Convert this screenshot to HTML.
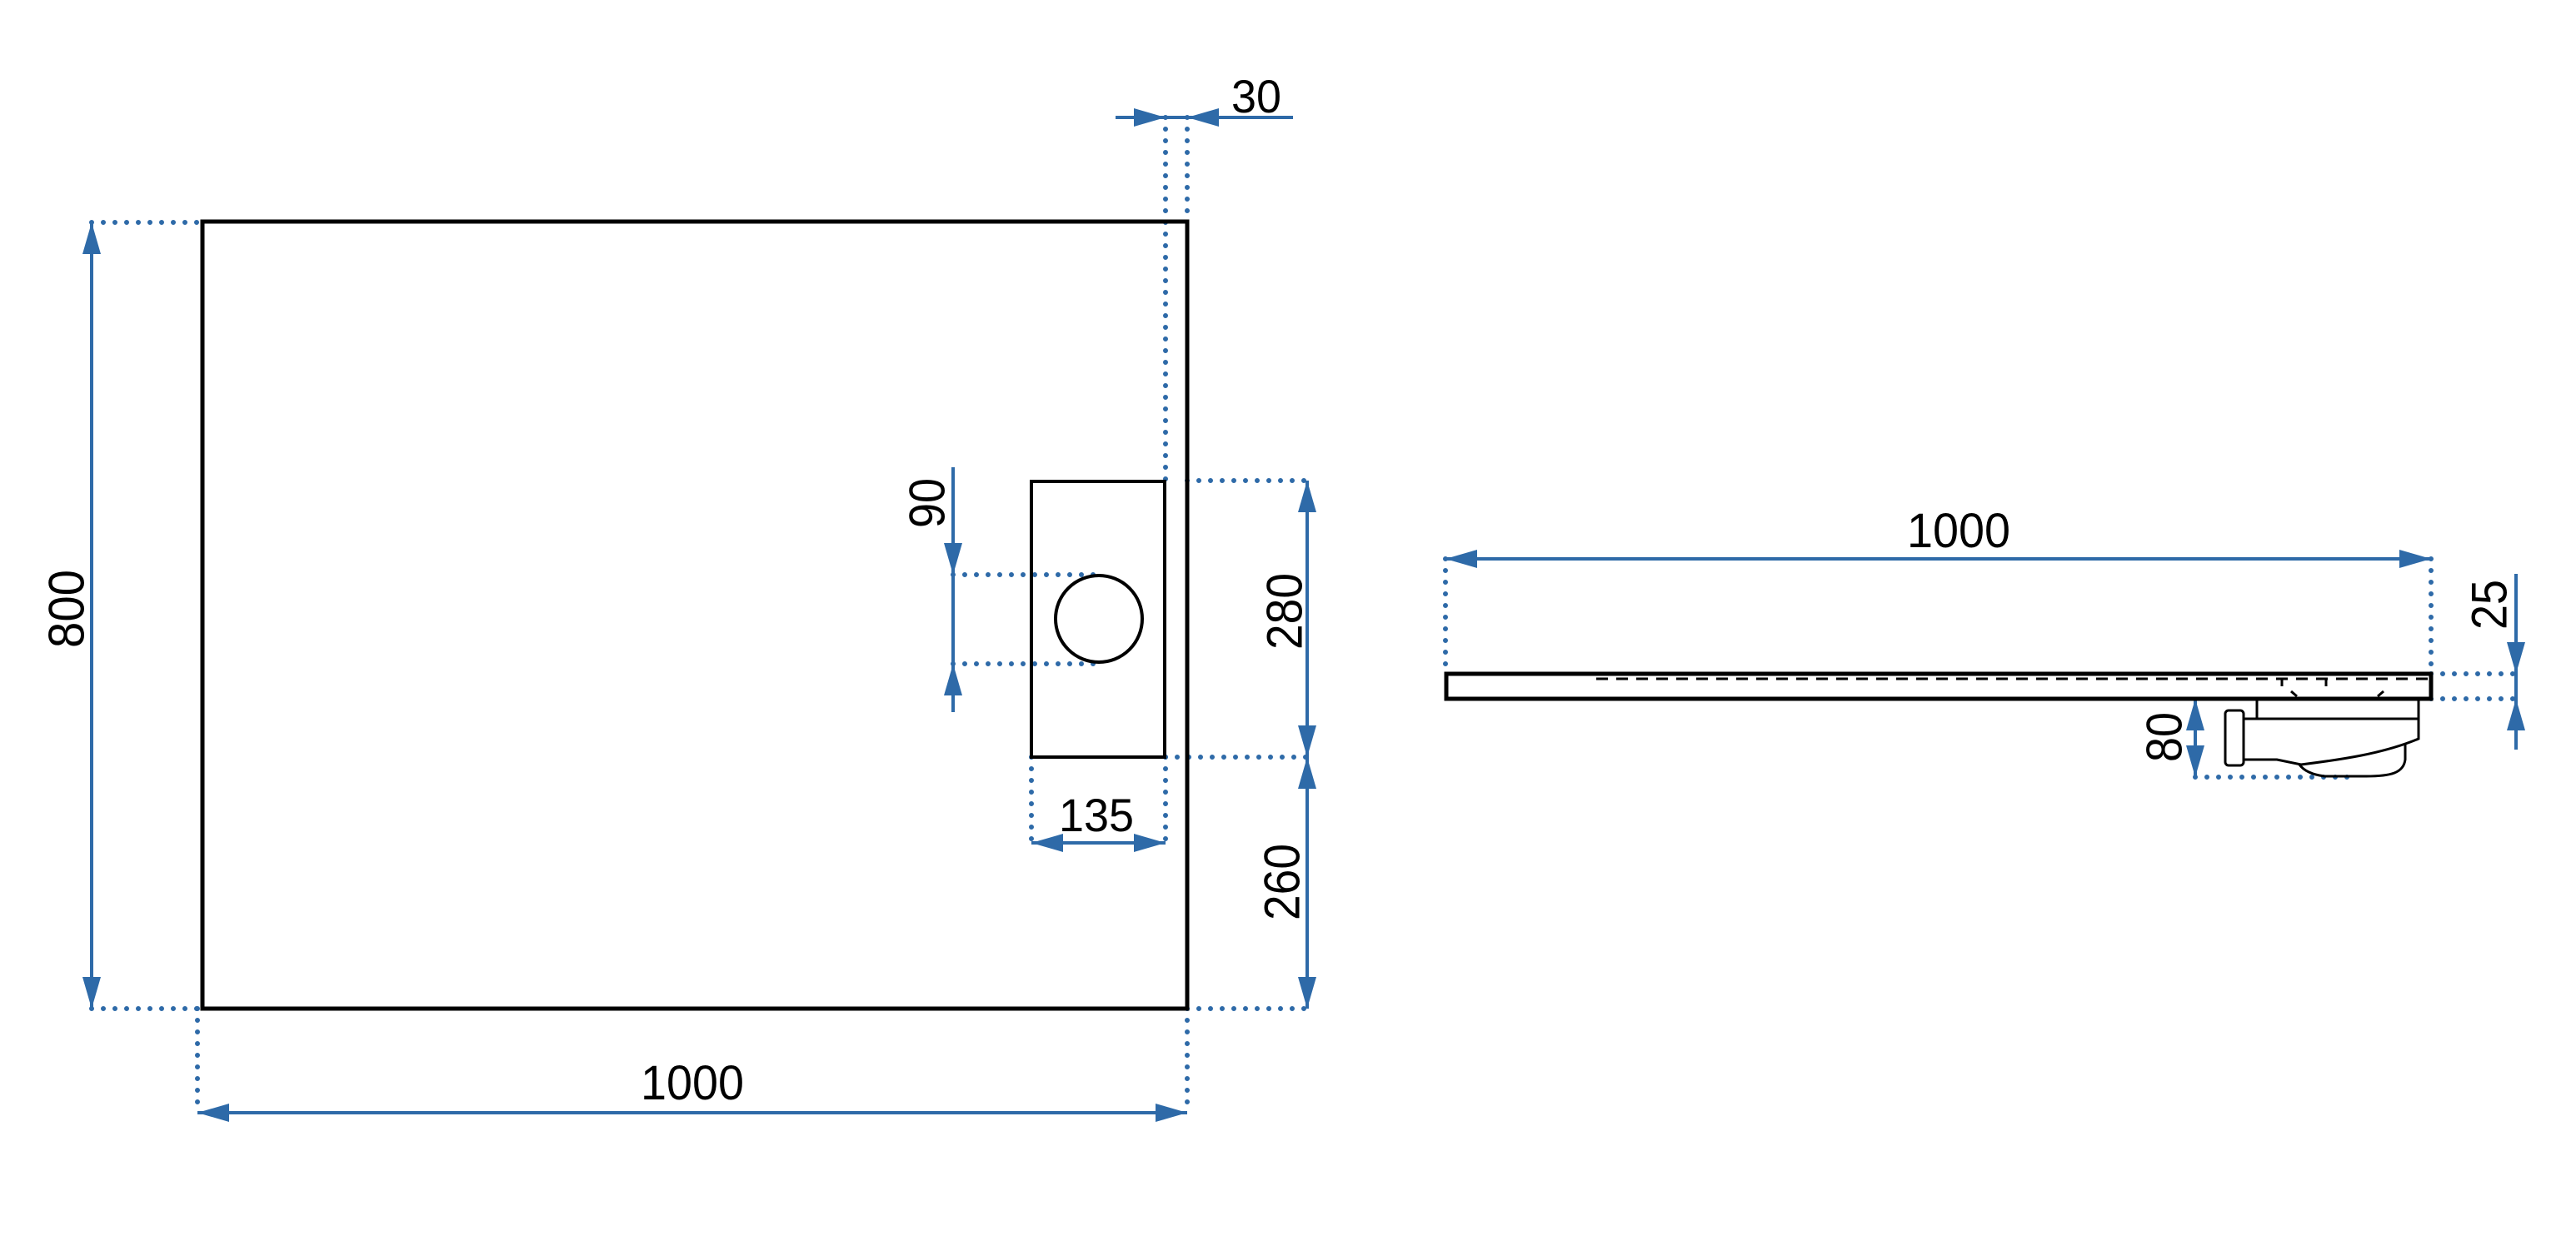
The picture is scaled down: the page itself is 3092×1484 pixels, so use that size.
<!DOCTYPE html>
<html><head><meta charset="utf-8"><style>
html,body{margin:0;padding:0;background:#fff;}
svg{display:block;}
text{font-family:"Liberation Sans",sans-serif;fill:#000;}
</style></head><body>
<svg width="3092" height="1484" viewBox="0 0 3092 1484" xmlns="http://www.w3.org/2000/svg">
<defs>
<marker id="a" viewBox="0 0 38 22" refX="38" refY="11" markerWidth="38" markerHeight="22" markerUnits="userSpaceOnUse" orient="auto-start-reverse"><path d="M0,0 L38,11 L0,22 Z" fill="#2e6aa8"/></marker>
</defs>
<g fill="none" stroke="#2e6aa8" stroke-width="6" stroke-linecap="round" stroke-dasharray="0 14">
<path d="M110,267 H243 M110,1211 H243"/>
<path d="M237,1211 V1336 M1425,1211 V1336"/>
<path d="M1399,141 V577 M1425,141 V266"/>
<path d="M1425,577 H1569 M1399,909 H1569 M1425,1211 H1569"/>
<path d="M1144,690 H1318 M1144,797 H1318"/>
<path d="M1238,909 V1012 M1399,909 V1012"/>
<path d="M1735,671 V809 M2918,671 V809"/>
<path d="M2918,809 H3024 M2918,839 H3024"/>
<path d="M2635,933 H2825"/>
</g>
<g stroke="#2e6aa8" stroke-width="4" fill="none">
<line x1="110" y1="1211" x2="110" y2="267" marker-end="url(#a)" marker-start="url(#a)"/>
<line x1="237" y1="1336" x2="1425" y2="1336" marker-end="url(#a)" marker-start="url(#a)"/>
<line x1="1339" y1="141" x2="1399" y2="141" marker-end="url(#a)"/>
<line x1="1399" y1="141" x2="1425" y2="141"/>
<line x1="1552" y1="141" x2="1425" y2="141" marker-end="url(#a)"/>
<line x1="1569" y1="577" x2="1569" y2="909" marker-end="url(#a)" marker-start="url(#a)"/>
<line x1="1569" y1="909" x2="1569" y2="1211" marker-end="url(#a)" marker-start="url(#a)"/>
<line x1="1144" y1="561" x2="1144" y2="690" marker-end="url(#a)"/>
<line x1="1144" y1="690" x2="1144" y2="797"/>
<line x1="1144" y1="855" x2="1144" y2="797" marker-end="url(#a)"/>
<line x1="1238" y1="1012" x2="1399" y2="1012" marker-end="url(#a)" marker-start="url(#a)"/>
<line x1="1735" y1="671" x2="2918" y2="671" marker-end="url(#a)" marker-start="url(#a)"/>
<line x1="3020" y1="689" x2="3020" y2="809" marker-end="url(#a)"/>
<line x1="3020" y1="809" x2="3020" y2="839"/>
<line x1="3020" y1="900" x2="3020" y2="839" marker-end="url(#a)"/>
<line x1="2635" y1="839" x2="2635" y2="933" marker-end="url(#a)" marker-start="url(#a)"/>
</g>
<g fill="none" stroke="#000" stroke-width="5">
<rect x="243" y="266" width="1182" height="945"/>
<rect x="1238" y="578" width="160" height="331" stroke-width="4"/>
<circle cx="1319" cy="743" r="52" stroke-width="4"/>
<rect x="1736" y="809" width="1182" height="30"/>
<path d="M1916,815 H2915" stroke-dasharray="14 10" stroke-width="3"/>
<path d="M2739,815 V824 M2792,815 V824 M2750,830 L2757,836 M2861,830 L2854,836" stroke-width="3"/>
<path d="M2709,841 V863 H2903 V841" stroke-width="3"/>
<path d="M2693,863 H2903 V887 C2860,905 2810,912 2762,918 L2733,912 H2693" stroke-width="3"/>
<path d="M2887,892 V912 C2885,928 2870,932 2840,932 H2790 C2775,930 2765,925 2760,918" stroke-width="3"/>
<rect x="2671" y="853" width="22" height="66" rx="4" stroke-width="3"/>
</g>
<g font-size="60">
<text x="80" y="731" transform="rotate(-90 80 731)" text-anchor="middle" dominant-baseline="central" textLength="94" lengthAdjust="spacingAndGlyphs">800</text>
<text x="831" y="1320" text-anchor="middle" font-size="58" textLength="124" lengthAdjust="spacingAndGlyphs">1000</text>
<text x="1508" y="135" text-anchor="middle" font-size="56" textLength="60" lengthAdjust="spacingAndGlyphs">30</text>
<text x="1316" y="998" text-anchor="middle" font-size="56" textLength="90" lengthAdjust="spacingAndGlyphs">135</text>
<text x="1542" y="734" transform="rotate(-90 1542 734)" text-anchor="middle" dominant-baseline="central" textLength="92" lengthAdjust="spacingAndGlyphs">280</text>
<text x="1539" y="1059" transform="rotate(-90 1539 1059)" text-anchor="middle" dominant-baseline="central" textLength="92" lengthAdjust="spacingAndGlyphs">260</text>
<text x="1113" y="604" transform="rotate(-90 1113 604)" text-anchor="middle" dominant-baseline="central" textLength="60" lengthAdjust="spacingAndGlyphs">90</text>
<text x="2351" y="657" text-anchor="middle" font-size="58" textLength="124" lengthAdjust="spacingAndGlyphs">1000</text>
<text x="2988" y="726" transform="rotate(-90 2988 726)" text-anchor="middle" dominant-baseline="central" textLength="60" lengthAdjust="spacingAndGlyphs">25</text>
<text x="2598" y="885" transform="rotate(-90 2598 885)" text-anchor="middle" dominant-baseline="central" textLength="60" lengthAdjust="spacingAndGlyphs">80</text>
</g>
</svg>
</body></html>
